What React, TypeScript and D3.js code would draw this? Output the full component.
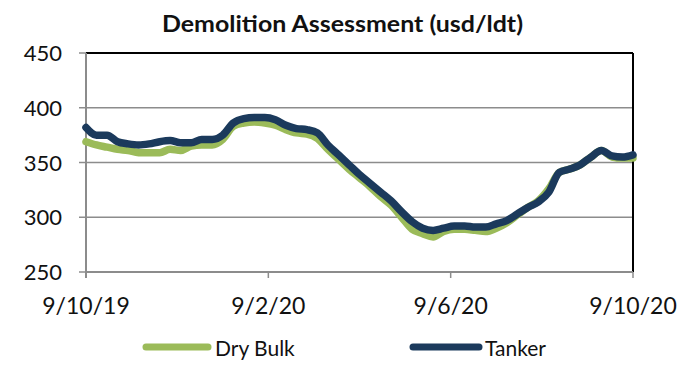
import React from "react";
import * as d3 from "d3";

const tickLabels = ["9/10/19", "9/2/20", "9/6/20", "9/10/20"];
const tickWeeks = [0, 52 / 3, (2 * 52) / 3, 52];
const yTicks = [250, 300, 350, 400, 450];

const dryBulk = [369, 366, 364, 362, 361, 359, 359, 359, 362, 361, 365, 366, 366, 371, 383, 386, 387, 386, 384, 380, 377, 376, 372, 362, 353, 344, 336, 328, 319, 311, 300, 289, 285, 282, 287, 289, 289, 288, 287, 290, 295, 302, 309, 315, 326, 341, 344, 348, 355, 361, 355, 354, 354];
const tanker = [382, 375, 375, 369, 367, 366, 367, 369, 370, 368, 368, 371, 371, 375, 386, 390, 391, 391, 389, 384, 381, 380, 377, 366, 357, 348, 339, 331, 323, 315, 305, 296, 290, 288, 290, 292, 292, 291, 291, 294, 297, 303, 309, 314, 323, 341, 344, 348, 355, 361, 356, 355, 357];

const W = 696, H = 383;
const L = 86, R = 633, T = 53, B = 272;
const font = "Lato, 'Open Sans', sans-serif";

export default function App() {
  const x = d3.scaleLinear().domain([0, 52]).range([L, R]);
  const y = d3.scaleLinear().domain([250, 450]).range([B, T]);
  const line = d3.line<number>().x((_, i) => x(i)).y((d) => y(d)).curve(d3.curveMonotoneX);
  return (
    <svg width={W} height={H} style={{ position: "absolute", left: 0, top: 0, background: "#fff" }}>
      <rect x={0} y={0} width={W} height={H} fill="#fff" />
      <text x={162} y={32} fontFamily={font} fontWeight="bold" fontSize={23} fill="#111" textLength={361} lengthAdjust="spacingAndGlyphs">
        Demolition Assessment (usd/ldt)
      </text>
      {yTicks.slice(1, 4).map((t) => (
        <line key={t} x1={L} x2={R} y1={y(t)} y2={y(t)} stroke="#8c8c8c" strokeWidth={1.5} />
      ))}
      <line x1={L} x2={R} y1={T} y2={T} stroke="#000" strokeWidth={2} />
      <line x1={R} x2={R} y1={T} y2={B} stroke="#000" strokeWidth={2} />
      <line x1={L} x2={L} y1={T} y2={B + 6} stroke="#8c8c8c" strokeWidth={2} />
      <line x1={L} x2={R} y1={B} y2={B} stroke="#8c8c8c" strokeWidth={2} />
      {yTicks.map((t) => (
        <g key={t}>
          <line x1={L - 7} x2={L} y1={y(t)} y2={y(t)} stroke="#8c8c8c" strokeWidth={1.5} />
          <text x={62} y={y(t) + 8} textAnchor="end" fontFamily={font} fontSize={22} fill="#111">
            {t}
          </text>
        </g>
      ))}
      {tickWeeks.map((w, i) => (
        <g key={i}>
          <line x1={x(w)} x2={x(w)} y1={B} y2={B + 6} stroke="#8c8c8c" strokeWidth={1.5} />
          <text x={x(w)} y={314} textAnchor="middle" fontFamily={font} fontSize={23} fill="#111">
            {tickLabels[i]}
          </text>
        </g>
      ))}
      <path d={line(dryBulk) || ""} fill="none" stroke="#9bbb59" strokeWidth={7.5} strokeLinejoin="round" strokeLinecap="round" />
      <path d={line(tanker) || ""} fill="none" stroke="#1b3a5c" strokeWidth={7.5} strokeLinejoin="round" strokeLinecap="round" />
      <line x1={146} x2={208} y1={347} y2={347} stroke="#9bbb59" strokeWidth={7} strokeLinecap="round" />
      <text x={215} y={356} fontFamily={font} fontSize={21} fill="#111">Dry Bulk</text>
      <line x1={413} x2={479} y1={347} y2={347} stroke="#1b3a5c" strokeWidth={7} strokeLinecap="round" />
      <text x={485} y={356} fontFamily={font} fontSize={21} fill="#111">Tanker</text>
    </svg>
  );
}
